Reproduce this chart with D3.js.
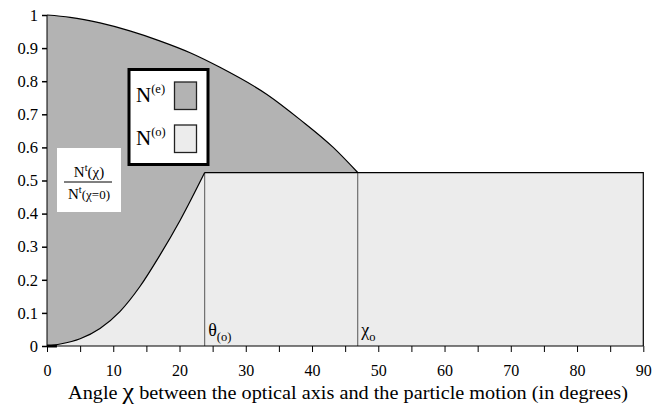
<!DOCTYPE html>
<html><head><meta charset="utf-8">
<script src="https://cdn.jsdelivr.net/npm/d3@7"></script>
</head><body style="margin:0;background:#fff"><svg id="c" width="653" height="404" font-family="Liberation Serif" style="display:block"></svg>
<script>
// ---- data ----
const upperX = [0, 3.5, 8.0, 12.5, 17.0, 21.6, 26.1, 33.2, 38.2, 43.2, 46.9];
const upperY = [1.0, 0.993, 0.976, 0.952, 0.922, 0.886, 0.842, 0.76, 0.684, 0.6, 0.524];
const lowerX = [0, 2.0, 5.0, 8.0, 11.0, 14.0, 17.0, 20.1, 23.8];
const lowerY = [0, 0.006, 0.022, 0.053, 0.104, 0.179, 0.273, 0.38, 0.524];
const thetaO = 23.8;
const chiO = 46.9;
const plateau = 0.524;
const xMax = 90;
const xTickLabels = [0, 10, 20, 30, 40, 50, 60, 70, 80, 90];
const xMinorTicks = [0,5,10,15,20,25,30,35,40,45,50,55,60,65,70,75,80,85,90];
const yTickValues = [0, 0.1, 0.2, 0.3, 0.4, 0.5, 0.6, 0.7, 0.8, 0.9, 1];
const yTickLabels = ["0", "0.1", "0.2", "0.3", "0.4", "0.5", "0.6", "0.7", "0.8", "0.9", "1"];

const DARK = "#b3b3b3", LIGHT = "#ececec";
const FONT = "Liberation Serif";
const svg = d3.select("#c");
const x = d3.scaleLinear().domain([0, 90]).range([47, 643.3]);
const y = d3.scaleLinear().domain([0, 1]).range([346, 15]);

const upper = upperX.map((v, i) => [v, upperY[i]]);
const lower = lowerX.map((v, i) => [v, lowerY[i]]);
const line = d3.line().x(d => x(d[0])).y(d => y(d[1])).curve(d3.curveMonotoneX);

// light region
svg.append("path")
  .attr("d", line(lower) + `L${x(thetaO)},${y(plateau)}L${x(xMax)},${y(plateau)}L${x(xMax)},${y(0)}L${x(0)},${y(0)}Z`)
  .attr("fill", LIGHT);
// dark region
const lowerRev = lower.slice().reverse();
svg.append("path")
  .attr("d", line(upper) + `L${x(thetaO)},${y(plateau)}` + line(lowerRev).replace(/^M/, "L") + "Z")
  .attr("fill", DARK);

// vertical marker lines
[thetaO, chiO].forEach(v => {
  svg.append("line").attr("x1", x(v)).attr("x2", x(v)).attr("y1", y(0)).attr("y2", y(plateau))
    .attr("stroke", "#555").attr("stroke-width", 1);
});
svg.append("path")
  .attr("d", `M${x(thetaO)},${y(plateau)}L${x(xMax)},${y(plateau)}L${x(xMax)},${y(0)}`)
  .attr("fill", "none").attr("stroke", "#000").attr("stroke-width", 1.2);
svg.append("path").attr("d", line(upper)).attr("fill", "none").attr("stroke", "#000").attr("stroke-width", 1.2);
svg.append("path").attr("d", line(lower)).attr("fill", "none").attr("stroke", "#000").attr("stroke-width", 1.2);
svg.append("line").attr("x1", x(0)).attr("x2", x(1.5)).attr("y1", y(0)).attr("y2", y(0)).attr("stroke","#000").attr("stroke-width",3);

// axes
const xAxisMinor = d3.axisBottom(x).tickValues(xMinorTicks).tickSize(6).tickFormat("");
const gx0 = svg.append("g").attr("transform", `translate(0,${y(0)})`).call(xAxisMinor);
const xAxis = d3.axisBottom(x).tickValues(xTickLabels).tickSize(0).tickPadding(19).tickFormat(d => String(d));
const gx = svg.append("g").attr("transform", `translate(0,${y(0)})`).call(xAxis);
gx.select(".domain").remove();
gx0.select(".domain").attr("d", `M${x(0)},0H${x(90)}`);
[gx, gx0].forEach(g => { g.attr("font-family", FONT); g.selectAll("line,path").attr("stroke", "#000"); });
gx.selectAll("text").attr("font-size", 16).attr("fill", "#000").attr("font-family", FONT);

const yAxis = d3.axisLeft(y).tickValues(yTickValues).tickSize(5).tickPadding(4)
  .tickFormat((d, i) => yTickLabels[i]);
const gy = svg.append("g").attr("transform", `translate(${x(0)},0)`).call(yAxis);
gy.attr("font-family", FONT);
gy.select(".domain").attr("d", `M0,${y(1)}V${y(0)}`).attr("stroke", "#000");
gy.selectAll("line").attr("stroke", "#000").attr("stroke-width", 1.5);
gy.selectAll("text").attr("font-size", 16.5).attr("fill", "#000").attr("font-family", FONT);

// x title
const t = svg.append("text").attr("x", 348).attr("y", 399).attr("text-anchor", "middle")
  .attr("font-size", 18).attr("fill", "#000").attr("font-family", FONT);
t.append("tspan").text("Angle ");
t.append("tspan").attr("font-size", 23).text("\u03C7");
t.append("tspan").text("  between the optical axis and the particle motion (in degrees)");
const tw = t.node().getComputedTextLength();
if (tw > 0) t.attr("textLength", 560).attr("lengthAdjust", "spacingAndGlyphs");

// fraction label box
svg.append("rect").attr("x", 57).attr("y", 148).attr("width", 64).attr("height", 64).attr("fill", "#fff");
const num = svg.append("text").attr("x", 89).attr("y", 177).attr("text-anchor", "middle").attr("font-size", 15).attr("fill", "#000").attr("font-family", FONT);
num.append("tspan").text("N");
num.append("tspan").attr("dy", -6).attr("font-size", 10.5).text("t");
num.append("tspan").attr("dy", 6).text("(\u03C7)");
svg.append("line").attr("x1", 64).attr("x2", 112).attr("y1", 182).attr("y2", 182).attr("stroke", "#000").attr("stroke-width", 1);
const den = svg.append("text").attr("x", 89).attr("y", 199).attr("text-anchor", "middle").attr("font-size", 15).attr("fill", "#000").attr("font-family", FONT);
den.append("tspan").text("N");
den.append("tspan").attr("dy", -6).attr("font-size", 10.5).text("t");
den.append("tspan").attr("dy", 6).attr("font-size", 13).text("(\u03C7=0)");

// legend
svg.append("rect").attr("x", 129).attr("y", 69.5).attr("width", 79).attr("height", 95)
  .attr("fill", "#fff").attr("stroke", "#000").attr("stroke-width", 3);
const legendItems = [{label: "e", fill: DARK, yy: 82}, {label: "o", fill: LIGHT, yy: 125}];
legendItems.forEach(it => {
  svg.append("rect").attr("x", 174.5).attr("y", it.yy).attr("width", 22).attr("height", 27.5)
    .attr("fill", it.fill).attr("stroke", "#222").attr("stroke-width", 1.3);
  const lt = svg.append("text").attr("x", 136).attr("y", it.yy + 20).attr("font-size", 21).attr("fill", "#000").attr("font-family", FONT);
  lt.append("tspan").text("N");
  lt.append("tspan").attr("dy", -9).attr("font-size", 12.5).text(`(${it.label})`);
});

// marker labels
const th = svg.append("text").attr("x", x(thetaO) + 3.5).attr("y", 336).attr("font-size", 18).attr("fill", "#000").attr("font-family", FONT);
th.append("tspan").text("\u03B8");
th.append("tspan").attr("dy", 5).attr("font-size", 12.5).text("(o)");
const ch = svg.append("text").attr("x", x(chiO) + 3.5).attr("y", 336).attr("font-size", 18).attr("fill", "#000").attr("font-family", FONT);
ch.append("tspan").text("\u03C7");
ch.append("tspan").attr("dy", 5).attr("font-size", 12.5).text("o");
</script></body></html>
